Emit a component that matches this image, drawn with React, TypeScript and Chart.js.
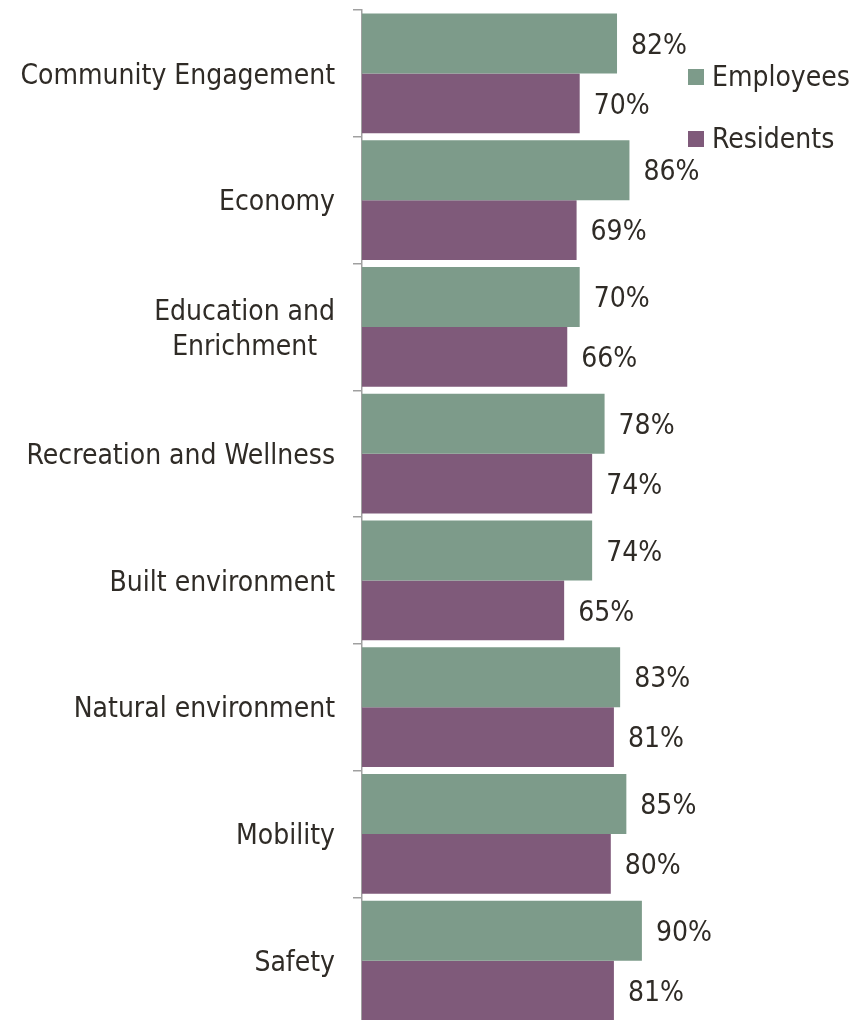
import React, { useEffect, useRef } from "react";
import { Chart, registerables } from "chart.js";

Chart.register(...registerables);

const categories: string[][] = [
  ["Community Engagement"],
  ["Economy"],
  ["Education and", "Enrichment"],
  ["Recreation and Wellness"],
  ["Built environment"],
  ["Natural environment"],
  ["Mobility"],
  ["Safety"],
];
const employees = [82, 86, 70, 78, 74, 83, 85, 90];
const residents = [70, 69, 66, 74, 65, 81, 80, 81];
const seriesNames = ["Employees", "Residents"];
const colors = ["#7d9b8a", "#7f5a7a"];

const FONT = "28px 'DejaVu Sans Condensed', 'DejaVu Sans', sans-serif";
const TEXT = "#2f2b26";

const W = 850;
const H = 1030;

const drawPlugin = {
  id: "customDraw",
  afterDatasetsDraw(chart: any) {
    const ctx = chart.ctx;
    ctx.save();
    ctx.font = FONT;
    ctx.fillStyle = TEXT;
    ctx.textBaseline = "middle";
    ctx.textAlign = "left";
    chart.data.datasets.forEach((ds: any, di: number) => {
      const meta = chart.getDatasetMeta(di);
      meta.data.forEach((bar: any, i: number) => {
        ctx.fillText(ds.data[i] + "%", bar.x + 14, bar.y + 3);
      });
    });
    // y category labels
    const ys = chart.scales.y;
    const rightX = 327;
    const lineH = 35;
    categories.forEach((lines, i) => {
      const cy = ys.getPixelForValue(i) + 3;
      const widths = lines.map((l) => ctx.measureText(l).width);
      const maxW = Math.max(...widths);
      const top = cy - ((lines.length - 1) * lineH) / 2;
      lines.forEach((l, li) => {
        ctx.textAlign = "center";
        ctx.fillText(l, rightX - maxW / 2, top + li * lineH);
      });
    });
    // legend
    const legendX = 680;
    const legendY = [61, 123];
    seriesNames.forEach((name, i) => {
      ctx.fillStyle = colors[i];
      ctx.fillRect(legendX, legendY[i], 16, 16);
      ctx.fillStyle = TEXT;
      ctx.textAlign = "left";
      ctx.fillText(name, legendX + 24, legendY[i] + 10);
    });
    ctx.restore();
  },
};

export default function App() {
  const ref = useRef<HTMLCanvasElement>(null);
  useEffect(() => {
    if (!ref.current) return;
    const chart = new Chart(ref.current, {
      type: "bar",
      data: {
        labels: categories.map((c) => c.join(" ")),
        datasets: [
          {
            label: seriesNames[0],
            data: employees,
            backgroundColor: colors[0],
            barPercentage: 1,
            categoryPercentage: 0.946,
          },
          {
            label: seriesNames[1],
            data: residents,
            backgroundColor: colors[1],
            barPercentage: 1,
            categoryPercentage: 0.946,
          },
        ],
      },
      options: {
        indexAxis: "y",
        responsive: false,
        animation: false,
        devicePixelRatio: 1,
        layout: { padding: { top: 2, right: 185, bottom: 14, left: 0 } },
        plugins: {
          legend: { display: false },
          tooltip: { enabled: false },
        },
        scales: {
          x: { display: false, min: 0, max: 100 },
          y: {
            afterFit(scale: any) {
              scale.width = 354;
            },
            offset: true,
            grid: {
              offset: true,
              drawOnChartArea: false,
              drawTicks: true,
              tickLength: 9,
              color: "#a0a0a0",
              lineWidth: 1.5,
            },
            border: { display: true, color: "#a0a0a0", width: 1.5 },
            ticks: { display: false },
          },
        },
      },
      plugins: [drawPlugin],
    });
    return () => chart.destroy();
  }, []);
  return <canvas ref={ref} width={W} height={H} style={{ display: "block" }} />;
}
